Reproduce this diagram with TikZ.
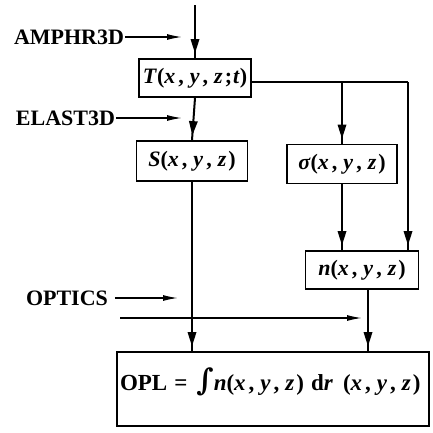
\documentclass[tikz,border=0pt]{standalone}
\usepackage{fontspec}
\setmainfont{Liberation Serif}
\newfontfamily\intfont{DejaVu Serif}
\usetikzlibrary{arrows.meta, decorations.markings}
\newcommand{\mvar}[1]{\textbf{\textit{#1}}}
\newcommand{\cm}{\kern3pt\textbf{,}\kern6pt}
\newcommand{\xyz}{\textbf{(}\mvar{x}\cm\mvar{y}\cm\mvar{z}\kern2pt\textbf{)}}
\tikzset{
  every picture/.style={line width=2pt},
  blk/.style={draw, line width=1.8pt, inner sep=2pt, font=\fontsize{22}{24}\selectfont\bfseries},
  lbl/.style={font=\fontsize{22}{24}\selectfont\bfseries, inner sep=0pt, anchor=west},
  feed/.style={-{Latex[length=15pt,width=6pt]}, line width=1.4pt},
  flow/.style={postaction={decorate}, decoration={markings, mark=at position -6pt with {\fill (1pt,0pt) -- (-13pt,4.5pt) -- (-13pt,-4.5pt) -- cycle;}}},
}

\begin{document}
\begin{tikzpicture}[x=1pt, y=-1pt]
  \useasboundingbox (0,0) rectangle (433,432);
  \node[blk, minimum width=112pt, minimum height=38pt] (T) at (195,78) {\mvar{T}\textbf{(}\mvar{x}\cm\mvar{y}\cm\mvar{z}\kern2pt;\kern1pt\mvar{t}\textbf{)}};
  \node[blk, minimum width=111pt, minimum height=40pt] (S) at (192,161) {\mvar{S}\xyz};
  \node[blk, minimum width=110pt, minimum height=39pt] (sig) at (342,164) {\mvar{σ}\xyz};
  \node[blk, minimum width=113pt, minimum height=38pt] (n) at (362,270) {\mvar{n}\xyz};
  \node[blk, minimum width=312pt, minimum height=74pt, text height=18pt, text depth=16pt, text width=306pt, align=left, font=\fontsize{23}{25}\selectfont\bfseries] (opl) at (273,389)
    {OPL\kern7pt=\kern9pt{\intfont\fontsize{30}{30}\selectfont∫}\mvar{n}\xyz\kern7pt\textbf{d}\mvar{r}\kern10pt\xyz};
  \coordinate (top) at (T.north |- 0,5);
  \coordinate (tr) at (408,82);
  \draw[flow] (top) -- (T.north);
  \draw[flow] (T.south) -- (S.north);
  \draw (T.east |- tr) -- (tr);
  \draw[flow] (sig.north |- tr) -- (sig.north);
  \draw[flow] (tr) -- (tr |- n.north);
  \draw[flow] (sig.south) -- (sig.south |- n.north);
  \draw[flow] (S.south) -- (S.south |- opl.north);
  \draw[flow] ([xshift=6pt]n.south) -- ([xshift=6pt]n.south |- opl.north);
  \node[lbl] (amp) at (13,37) {AMPHR3D};
  \coordinate (ampend) at (182,37);
  \draw[feed] (amp.east) -- (ampend);
  \node[lbl] (ela) at (15,118) {ELAST3D};
  \coordinate (elaend) at (182,118);
  \draw[feed] (ela.east) -- (elaend);
  \node[lbl] (opt) at (25,298) {OPTICS};
  \coordinate (optend) at (178,298);
  \draw[feed] ([xshift=6pt]opt.east) -- (optend);
  \coordinate (rayin) at (120,318);
  \coordinate (rayend) at (362,318);
  \draw[feed] (rayin) -- (rayend);
\end{tikzpicture}
\end{document}
